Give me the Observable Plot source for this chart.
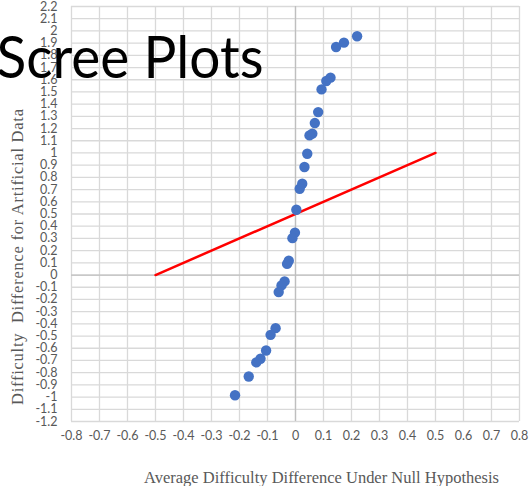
<!DOCTYPE html>
<html><head><meta charset="utf-8">
<script src="https://cdn.jsdelivr.net/npm/d3@7"></script>
<script src="https://cdn.jsdelivr.net/npm/@observablehq/plot@0.6"></script>
<style>html,body{margin:0;padding:0;background:#fff;overflow:hidden}#chart{width:531px;height:486px}</style>
</head><body><div id="chart"></div>
<script>
const titleText = "Scree Plots";
const xLabel = "Average Difficulty Difference Under Null Hypothesis";
const yLabel = "Difficulty  Difference for Artificial Data";
const xTicks = [-0.8,-0.7,-0.6,-0.5,-0.4,-0.3,-0.2,-0.1,0,0.1,0.2,0.3,0.4,0.5,0.6,0.7,0.8];
const yTicks = [-1.2,-1.1,-1,-0.9,-0.8,-0.7,-0.6,-0.5,-0.4,-0.3,-0.2,-0.1,0,0.1,0.2,0.3,0.4,0.5,0.6,0.7,0.8,0.9,1,1.1,1.2,1.3,1.4,1.5,1.6,1.7,1.8,1.9,2,2.1,2.2];
const pointX = [0.220,0.173,0.145,0.125,0.110,0.093,0.081,0.069,0.060,0.050,0.042,0.032,0.024,0.015,0.003,-0.002,-0.011,-0.024,-0.030,-0.039,-0.050,-0.060,-0.071,-0.089,-0.105,-0.125,-0.140,-0.167,-0.216];
const pointY = [1.956,1.904,1.868,1.617,1.590,1.521,1.335,1.245,1.158,1.144,0.994,0.885,0.748,0.707,0.535,0.347,0.302,0.117,0.091,-0.052,-0.085,-0.140,-0.435,-0.490,-0.618,-0.686,-0.716,-0.831,-0.985];
const refLineX = [-0.5, 0.5];
const refLineY = [0, 1];

const points = pointX.map((x, i) => ({x, y: pointY[i]}));
const refLine = refLineX.map((x, i) => ({x, y: refLineY[i]}));
const fmt = d => String(d);
const serif = "'Liberation Serif', 'Times New Roman', serif";

const plot = Plot.plot({
  width: 531, height: 486,
  marginLeft: 71, marginRight: 12, marginTop: 6, marginBottom: 65,
  style: {fontFamily: "Lato, sans-serif", fontSize: "12.5px", color: "#595959", background: "white", overflow: "visible"},
  x: {domain: [-0.8, 0.8]},
  y: {domain: [-1.2, 2.2]},
  marks: [
    Plot.ruleX(xTicks, {stroke: "#d9d9d9", strokeWidth: 1.3}),
    Plot.ruleY(yTicks, {stroke: "#d9d9d9", strokeWidth: 1.3}),
    Plot.ruleX([0], {stroke: "#bfbfbf", strokeWidth: 1.3}),
    Plot.ruleY([0], {stroke: "#bfbfbf", strokeWidth: 1.3}),
    Plot.axisX({ticks: xTicks, tickSize: 0, tickPadding: 9.5, tickFormat: fmt, label: null, fill: "#595959"}),
    Plot.axisY({ticks: yTicks, tickSize: 0, tickPadding: 14, tickFormat: fmt, label: null, fill: "#595959"}),
    Plot.line(refLine, {x: "x", y: "y", stroke: "#ff0000", strokeWidth: 2.5}),
    Plot.dot(points, {x: "x", y: "y", r: 5.2, fill: "#4472c4"}),
    Plot.text([xLabel], {text: d => d, frameAnchor: "bottom", textAnchor: "middle", dx: 26, dy: 61, fontSize: 16.5, fontFamily: serif, fill: "#595959"}),
    Plot.text([yLabel], {text: d => d, frameAnchor: "left", textAnchor: "middle", rotate: -90, dx: -54, dy: 43, fontSize: 16.5, fontFamily: serif, fill: "#595959"}),
    Plot.text([titleText], {text: d => d, frameAnchor: "top-left", textAnchor: "start", dx: -75, dy: 30, fontSize: 59, fontFamily: "Lato, sans-serif", fill: "black"})
  ]
});
document.getElementById("chart").appendChild(plot);

d3.select(plot).selectAll("text").each(function() {
  const t = this.textContent;
  if (t === titleText) { this.setAttribute("textLength", 267); this.setAttribute("lengthAdjust", "spacingAndGlyphs"); }
  if (t === xLabel) { this.setAttribute("textLength", 355); this.setAttribute("lengthAdjust", "spacingAndGlyphs"); }
  if (t === yLabel) { this.style.whiteSpace = "pre"; this.setAttribute("textLength", 296); this.setAttribute("lengthAdjust", "spacing"); }
});
</script>
</body></html>
